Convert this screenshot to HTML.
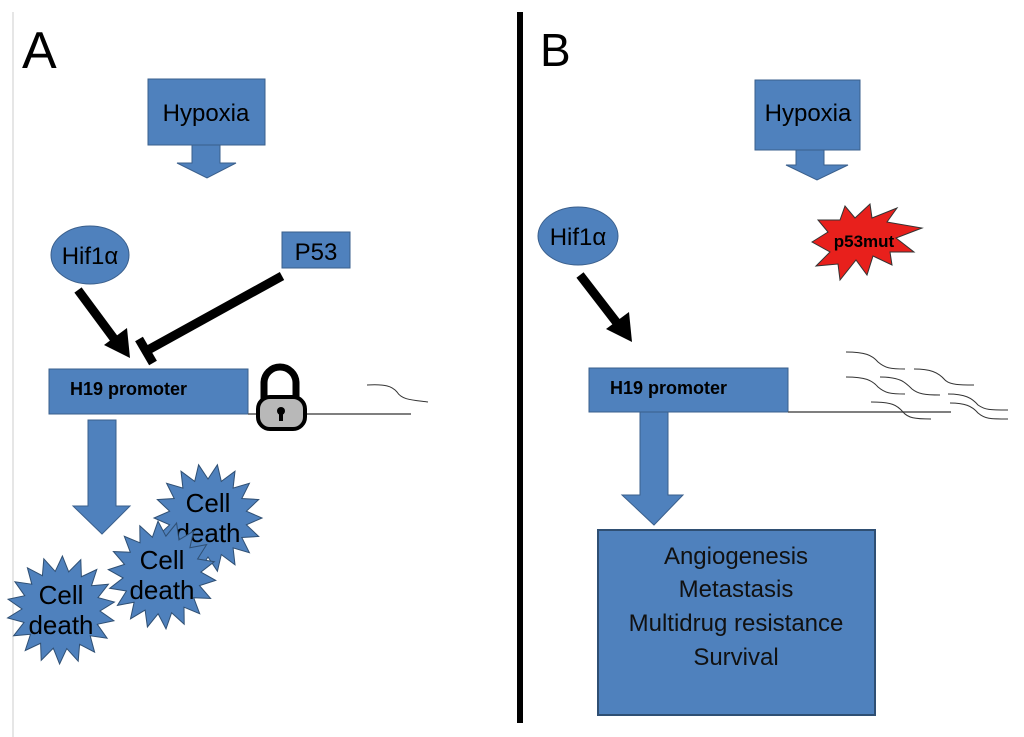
<!DOCTYPE html>
<html><head><meta charset="utf-8"><style>
html,body{margin:0;padding:0;background:#fff}
svg{display:block}
text{font-family:"Liberation Sans",sans-serif}
</style></head><body>
<svg id="s" width="1024" height="737" viewBox="0 0 1024 737" xmlns="http://www.w3.org/2000/svg">
<rect width="1024" height="737" fill="#fff"/>
<line x1="13" y1="12" x2="13" y2="737" stroke="#ddd" stroke-width="1.5"/>
<text x="22" y="68" font-size="52">A</text>
<text x="540" y="66" font-size="46">B</text>
<rect x="517" y="12" width="6" height="711" fill="#000"/>
<rect x="148" y="79" width="117" height="66" fill="#4f81bd" stroke="#3a5f8c"/>
<text x="206" y="121" font-size="24" text-anchor="middle">Hypoxia</text>
<polygon points="192,145 220,145 220,163 236,163 207,178 177,163 192,163" fill="#4f81bd" stroke="#3a5f8c"/>
<ellipse cx="90" cy="255" rx="39" ry="29" fill="#4f81bd" stroke="#3a5f8c"/>
<text x="90" y="264" font-size="24" text-anchor="middle">Hif1α</text>
<rect x="282" y="232" width="68" height="36" fill="#4f81bd" stroke="#3a5f8c"/>
<text x="316" y="260" font-size="24" text-anchor="middle">P53</text>
<line x1="78" y1="290" x2="115" y2="340" stroke="#000" stroke-width="9"/>
<polygon points="104,345 127,328 130,358" fill="#000"/>
<line x1="282" y1="276" x2="148" y2="350" stroke="#000" stroke-width="9"/>
<line x1="139" y1="339" x2="153" y2="363" stroke="#000" stroke-width="9"/>
<rect x="49" y="369" width="199" height="45" fill="#4f81bd" stroke="#3a5f8c"/>
<text x="70" y="395" font-size="18" font-weight="bold">H19 promoter</text>
<line x1="248" y1="414" x2="411" y2="414" stroke="#555" stroke-width="1.5"/>
<path d="M367,385 C385,384 392,386 397,392 C402,400 412,400 428,402" fill="none" stroke="#333" stroke-width="1"/>
<path d="M264,400 V383 A16,16 0 0 1 296,383 V400" fill="none" stroke="#000" stroke-width="7"/>
<rect x="258" y="397" width="47" height="32" rx="12" fill="#b8b8b8" stroke="#000" stroke-width="4"/>
<circle cx="281" cy="411" r="4" fill="#000"/><rect x="279" y="411" width="4" height="10" fill="#000"/>
<polygon points="88,420 116,420 116,506 130,506 102,534 73,506 88,506" fill="#4f81bd" stroke="#3a5f8c"/>
<g id="stars"></g>
<rect x="755" y="80" width="105" height="70" fill="#4f81bd" stroke="#3a5f8c"/>
<text x="808" y="121" font-size="24" text-anchor="middle">Hypoxia</text>
<polygon points="796,150 824,150 824,165 848,165 817,180 786,165 796,165" fill="#4f81bd" stroke="#3a5f8c"/>
<ellipse cx="578" cy="236" rx="40" ry="29" fill="#4f81bd" stroke="#3a5f8c"/>
<text x="578" y="245" font-size="24" text-anchor="middle">Hif1α</text>
<line x1="580" y1="275" x2="617" y2="323" stroke="#000" stroke-width="9"/>
<polygon points="606,329 629,312 632,342" fill="#000"/>
<rect x="589" y="368" width="199" height="44" fill="#4f81bd" stroke="#3a5f8c"/>
<text x="610" y="394" font-size="18" font-weight="bold">H19 promoter</text>
<line x1="788" y1="412" x2="951" y2="412" stroke="#555" stroke-width="1.5"/>
<g fill="none" stroke="#333" stroke-width="1">
<path d="M846,352 C865,352 872,355 878,362 C885,368 890,369 905,369"/>
<path d="M914,369 C930,369 938,372 945,380 C950,385 960,385 974,385"/>
<path d="M846,377 C865,377 872,380 878,387 C885,393 890,394 905,394"/>
<path d="M880,377 C900,377 905,382 912,389 C918,394 925,395 940,395"/>
<path d="M948,394 C965,394 972,398 978,405 C985,410 990,410 1008,410"/>
<path d="M950,403 C965,403 972,406 978,413 C985,419 990,419 1008,419"/>
<path d="M871,402 C892,402 897,405 903,412 C908,418 915,419 931,419"/>
</g>
<polygon points="640,412 668,412 668,495 683,495 654,525 622,495 640,495" fill="#4f81bd" stroke="#3a5f8c"/>
<rect x="598" y="530" width="277" height="185" fill="#4f81bd" stroke="#2f4f73" stroke-width="2"/>
<g font-size="24" text-anchor="middle" fill="#111">
<text x="736" y="564">Angiogenesis</text>
<text x="736" y="597">Metastasis</text>
<text x="736" y="631">Multidrug resistance</text>
<text x="736" y="665">Survival</text>
</g>
<g id="red"></g>
</svg>
<script>
function star(cx,cy,R,r,n,rot,fill){
 var p=[];for(var i=0;i<2*n;i++){var a=rot+Math.PI*i/n,rr=i%2?r:R;p.push((cx+rr*Math.cos(a)).toFixed(1)+","+(cy+rr*Math.sin(a)).toFixed(1));}
 return '<polygon points="'+p.join(" ")+'" fill="'+fill+'" stroke="#2f4f73" stroke-width="1"/>';
}
var g='';
[[208,518],[162,575],[61,610]].forEach(function(c,i){
 g+=star(c[0],c[1],54,39,18,0.1*i,'#4f81bd');
 g+='<text x="'+c[0]+'" y="'+(c[1]-6)+'" font-size="26" text-anchor="middle">Cell</text><text x="'+c[0]+'" y="'+(c[1]+24)+'" font-size="26" text-anchor="middle">death</text>';
});
document.getElementById('stars').innerHTML=g;
var r='<polygon points="812,242 828,232 818,220 840,220 845,206 855,218 870,204 872,218 897,208 887,222 922,228 896,238 914,252 890,252 892,265 873,256 867,275 856,260 840,280 838,264 816,266 830,252" fill="#e8201c" stroke="#333" stroke-width="1"/>';
r+='<text x="864" y="247" font-size="17" font-weight="bold" text-anchor="middle">p53mut</text>';
document.getElementById('red').innerHTML=r;
</script>
</body></html>
